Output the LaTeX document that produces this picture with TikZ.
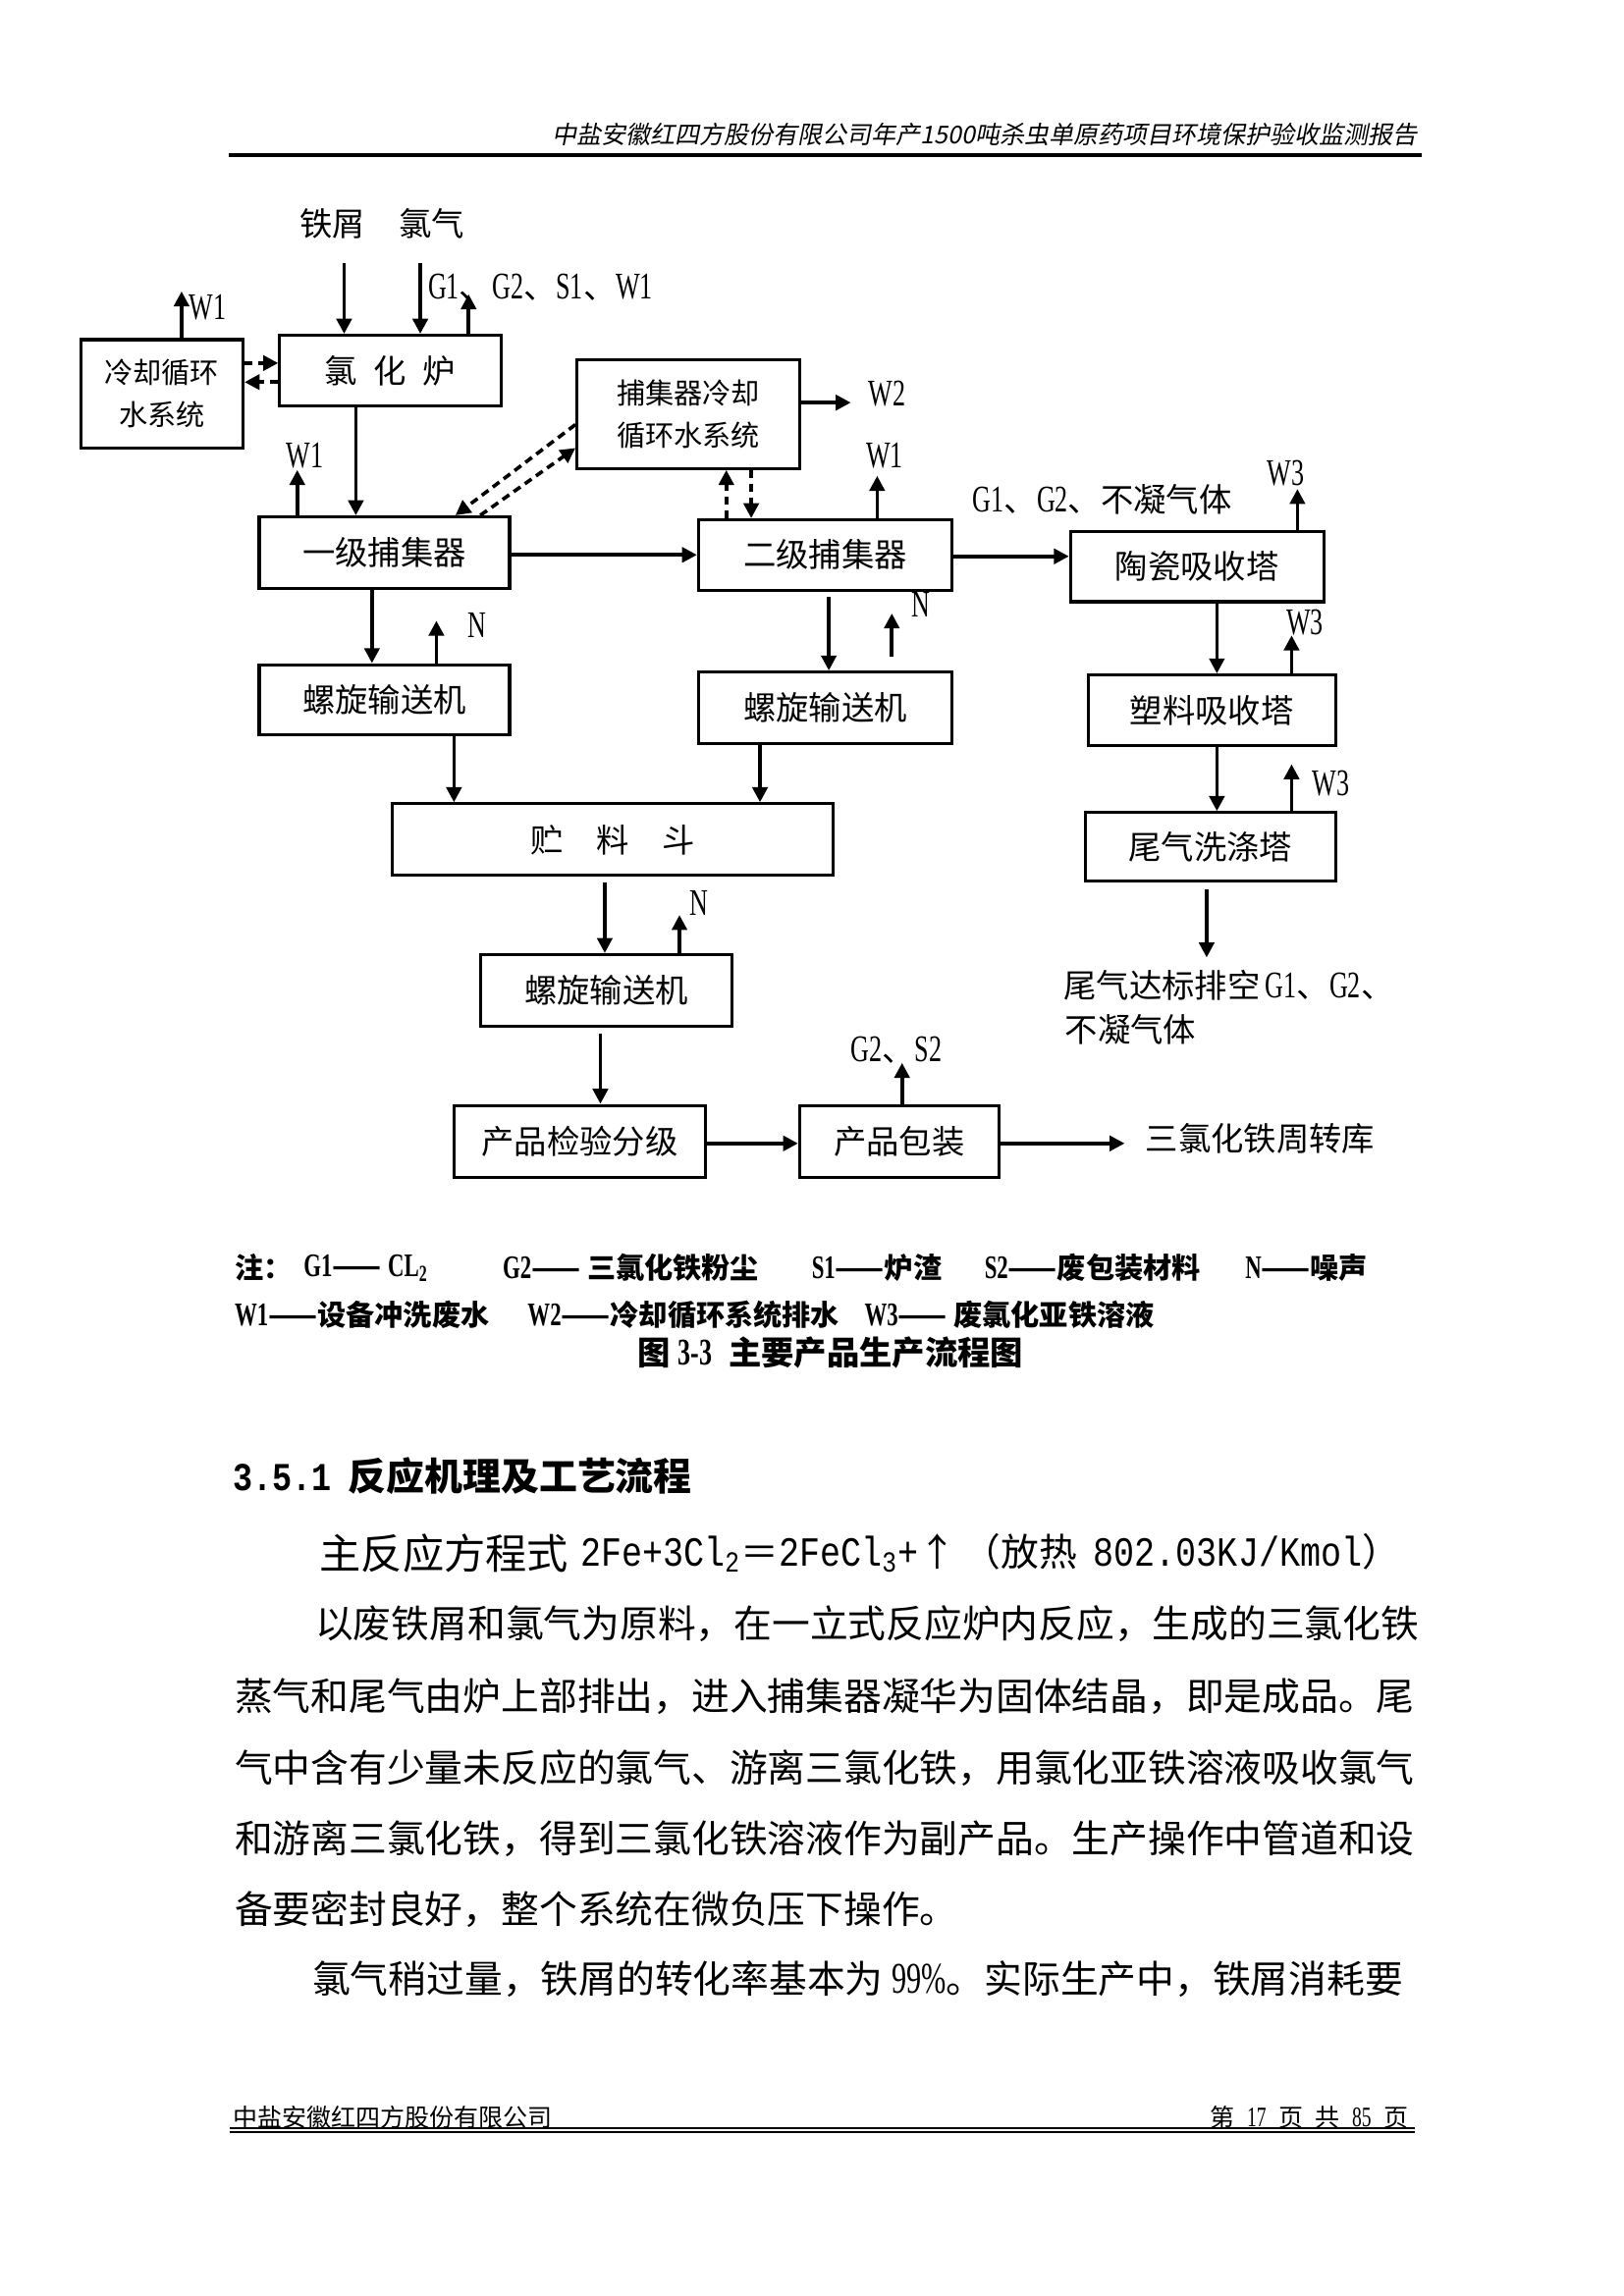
\documentclass[tikz,border=0pt]{standalone}
\usepackage{fontspec}
\setmainfont{Noto Sans CJK SC}
\newfontfamily\latc[FakeStretch=0.68,Scale=1.15]{Liberation Serif}
\newfontfamily\monoc[FakeStretch=0.83]{Liberation Mono}
\newfontfamily\cjkit[FakeSlant=0.2]{Noto Sans CJK SC}
\usetikzlibrary{arrows.meta}
\def\U{0.53677pt}
\newcommand\bx[7][box]{\node[#1,minimum width={(#5-#3)*\U},minimum height={(#6-#4)*\U}] (#2) at ({(#3+#5)/2},{(#4+#6)/2}) {#7};}
\newcommand\La[1]{{\latc #1}}
\begin{document}
\begin{tikzpicture}[x=\U,y=-\U,
  box/.style={draw,line width=1.1pt,inner sep=0pt,align=center,font=\fontsize{12}{14}\selectfont},
  sbox/.style={box,font=\fontsize{10.5}{15.5}\selectfont},
  arr/.style={line width=1.3pt,-{Triangle[length=5.5pt,width=5.5pt]}},
  darr/.style={arr,dash pattern=on 3pt off 2pt},
  lbl/.style={inner sep=0pt,font=\fontsize{12}{14}\selectfont},
  note/.style={inner sep=0pt,anchor=west,font=\bfseries\fontsize{10.5}{12}\selectfont},
  body/.style={inner sep=0pt,anchor=west,font=\fontsize{13.95}{16}\selectfont}]
\fill[white] (0,0) rectangle (1109,1568.3);
\useasboundingbox (0,0) rectangle (1109,1568.3);

% header
\node[anchor=east,inner sep=0pt,font=\cjkit\fontsize{9}{11}\selectfont] (hdr) at (968,92) {中盐安徽红四方股份有限公司年产1500吨杀虫单原药项目环境保护验收监测报告};
\draw[line width=1.25pt] (156,105.8) -- (971,105.8);

% inputs
\node[lbl] (tx) at (227,153) {铁屑};
\node[lbl] (lq) at (295,153) {氯气};

% boxes
\bx{lu}{191}{229}{342}{277}{氯\hspace{0.5em}化\hspace{0.5em}炉}
\bx[sbox]{cool}{55}{232}{166}{306}{冷却循环\\水系统}
\bx[sbox]{bcool}{394}{246}{546}{320}{捕集器冷却\\循环水系统}
\bx{c1}{177}{353}{348}{402}{一级捕集器}
\bx{c2}{477}{355}{650}{403}{二级捕集器}
\bx{tc}{731}{363}{904}{411}{陶瓷吸收塔}
\bx{sl}{743}{461}{912}{509}{塑料吸收塔}
\bx{wx}{741}{555}{912}{602}{尾气洗涤塔}
\bx{s1}{177}{454}{348}{502}{螺旋输送机}
\bx{s2}{477}{459}{650}{508}{螺旋输送机}
\bx{hop}{268}{549}{569}{598}{贮\hspace{1em}料\hspace{1em}斗}
\bx{s3}{328}{652}{500}{701}{螺旋输送机}
\bx{jy}{310}{755}{482}{804}{产品检验分级}
\bx{bz}{546}{755}{682}{804}{产品包装}

% connectors top
\coordinate (in1) at (235,180);
\coordinate (in2) at (287,180);
\draw[arr] (in1) -- (in1 |- lu.north);
\draw[arr] (in2) -- (in2 |- lu.north);
\coordinate (g1o) at (320,201);
\draw[arr] (g1o |- lu.north) -- (g1o);
\node[lbl,anchor=west] (g1l) at (292,196) {\La{G1}、\La{G2}、\La{S1}、\La{W1}};

\coordinate (w1a) at (124,199);
\draw[arr] (w1a |- cool.north) -- (w1a);
\node[lbl,anchor=west] (w1al) at (129,210) {\La{W1}};

\draw[darr] (cool.east |- 0,248) -- (lu.west |- 0,248);
\draw[darr] (lu.west |- 0,261) -- (cool.east |- 0,261);

\draw[arr] (243,0 |- lu.south) -- (243,0 |- c1.north);
\coordinate (w1b) at (203,321);
\draw[arr] (w1b |- c1.north) -- (w1b);
\node[lbl] (w1bl) at (208,311) {\La{W1}};

\draw[darr] (bcool.west |- 0,290) -- (c1.north -| 311,0);
\draw[darr] (c1.north -| 328,0) -- (bcool.west |- 0,306);

\draw[darr] (496,0 |- c2.north) -- (496,0 |- bcool.south);
\draw[darr] (513,0 |- bcool.south) -- (513,0 |- c2.north);

\coordinate (w2) at (581,275);
\draw[arr] (bcool.east |- w2) -- (w2);
\node[lbl,anchor=west] (w2l) at (593,269) {\La{W2}};

\draw[arr] (c1.east |- 0,379) -- (c2.west |- 0,379);
\coordinate (w1c) at (599,325);
\draw[arr] (w1c |- c2.north) -- (w1c);
\node[lbl] (w1cl) at (604,311) {\La{W1}};
\node[lbl,anchor=west] (gl2) at (664,341) {\La{G1}、\La{G2}、不凝气体};
\draw[arr] (c2.east |- 0,380) -- (tc.west |- 0,380);

% right column
\coordinate (w3a) at (886,334);
\draw[arr] (w3a |- tc.north) -- (w3a);
\node[lbl] (w3al) at (878,323) {\La{W3}};
\draw[arr] (831,0 |- tc.south) -- (831,0 |- sl.north);
\coordinate (w3b) at (882,434);
\draw[arr] (w3b |- sl.north) -- (w3b);
\node[lbl] (w3bl) at (891,425) {\La{W3}};
\draw[arr] (831,0 |- sl.south) -- (831,0 |- wx.north);
\coordinate (w3c) at (882,522);
\draw[arr] (w3c |- wx.north) -- (w3c);
\node[lbl] (w3cl) at (909,535) {\La{W3}};
\coordinate (ex) at (824,654);
\draw[arr,shorten <=2.5pt] (ex |- wx.south) -- (ex);
\node[lbl,anchor=west] (exl1) at (726,673) {尾气达标排空\,\La{G1}、\La{G2}、};
\node[lbl,anchor=west] (exl2) at (727,703) {不凝气体};

% screws and hopper
\draw[arr] (254,0 |- c1.south) -- (254,0 |- s1.north);
\coordinate (n1) at (298,424);
\draw[arr] (n1 |- s1.north) -- (n1);
\node[lbl] (n1l) at (326,427) {\La{N}};
\draw[arr,shorten <=2pt] (566,0 |- c2.south) -- (566,0 |- s2.north);
\coordinate (n2) at (609,419);
\draw[arr,shorten <=5pt] (n2 |- s2.north) -- (n2);
\node[lbl] (n2l) at (629,413) {\La{N}};
\draw[arr] (310,0 |- s1.south) -- (310,0 |- hop.north);
\draw[arr] (519,0 |- s2.south) -- (519,0 |- hop.north);
\draw[arr,shorten <=2pt] (413,0 |- hop.south) -- (413,0 |- s3.north);
\coordinate (n3) at (464,625);
\draw[arr] (n3 |- s3.north) -- (n3);
\node[lbl] (n3l) at (477,617) {\La{N}};
\draw[arr,shorten <=2pt] (410,0 |- s3.south) -- (410,0 |- jy.north);
\draw[arr] (jy.east |- 0,781) -- (bz.west |- 0,781);
\coordinate (g2o) at (616,726);
\draw[arr] (g2o |- bz.north) -- (g2o);
\node[lbl] (g2l) at (612,717) {\La{G2}、\La{S2}};
\coordinate (st) at (768,781);
\draw[arr] (bz.east |- st) -- (st);
\node[lbl,anchor=west] (stl) at (782,778) {三氯化铁周转库};

% notes
\node[note] (n0) at (160,866) {注：};
\node[note] (nt1) at (207,866) {\La{G1}—— \La{CL\textsubscript{2}}};
\node[note] (nt2) at (343,866) {\La{G2}—— 三氯化铁粉尘};
\node[note] (nt3) at (554,866) {\La{S1}——炉渣};
\node[note] (nt4) at (672,866) {\La{S2}——废包装材料};
\node[note] (nt5) at (850,866) {\La{N}——噪声};
\node[note] (nt6) at (160,898) {\La{W1}——设备冲洗废水};
\node[note] (nt7) at (360,898) {\La{W2}——冷却循环系统排水};
\node[note] (nt8) at (590,898) {\La{W3}—— 废氯化亚铁溶液};
\node[inner sep=0pt,font=\bfseries\fontsize{12}{14}\selectfont] (cap) at (567,924) {图\hspace{3pt}\La{3-3}\hspace{6pt}主要产品生产流程图};

% text
\node[anchor=west,inner sep=0pt] (sec) at (159,1008) {{\monoc\bfseries\fontsize{14.5}{16}\selectfont 3.5.1}\hspace{6pt}{\bfseries\fontsize{14}{16}\selectfont 反应机理及工艺流程}};
\node[body,font=\fontsize{15.2}{18}\selectfont] (eqa) at (218,1061) {主反应方程式};
\node[body] (eqb) at (396,1061) {{\monoc\fontsize{15.2}{17}\selectfont 2Fe+3Cl\textsubscript{2}}＝{\monoc\fontsize{15.2}{17}\selectfont 2FeCl\textsubscript{3}+}↑\,（放热\hspace{6pt}{\monoc\fontsize{15.2}{17}\selectfont 802.03KJ/Kmol}）};
\node[body] (p1) at (215,1109) {以废铁屑和氯气为原料，在一立式反应炉内反应，生成的三氯化铁};
\node[body] (p2) at (160,1159) {蒸气和尾气由炉上部排出，进入捕集器凝华为固体结晶，即是成品。尾};
\node[body] (p3) at (160,1207.5) {气中含有少量未反应的氯气、游离三氯化铁，用氯化亚铁溶液吸收氯气};
\node[body] (p4) at (160,1256) {和游离三氯化铁，得到三氯化铁溶液作为副产品。生产操作中管道和设};
\node[body] (p5) at (160,1304) {备要密封良好，整个系统在微负压下操作。};
\node[body] (p6) at (213,1352) {氯气稍过量，铁屑的转化率基本为 {\latc 99\%}。实际生产中，铁屑消耗要};

% footer
\node[anchor=west,inner sep=0pt,font=\fontsize{9}{11}\selectfont] (f1) at (159,1446) {中盐安徽红四方股份有限公司};
\node[anchor=east,inner sep=0pt,font=\fontsize{9}{11}\selectfont] (f2) at (962,1446) {第\hspace{4.5pt}\La{17}\hspace{4.5pt}页\hspace{4.5pt}共\hspace{4.5pt}\La{85}\hspace{4.5pt}页};
\draw[line width=0.6pt] (157,1453.6) -- (966,1453.6);
\draw[line width=0.9pt] (157,1456.2) -- (966,1456.2);
\end{tikzpicture}
\end{document}
